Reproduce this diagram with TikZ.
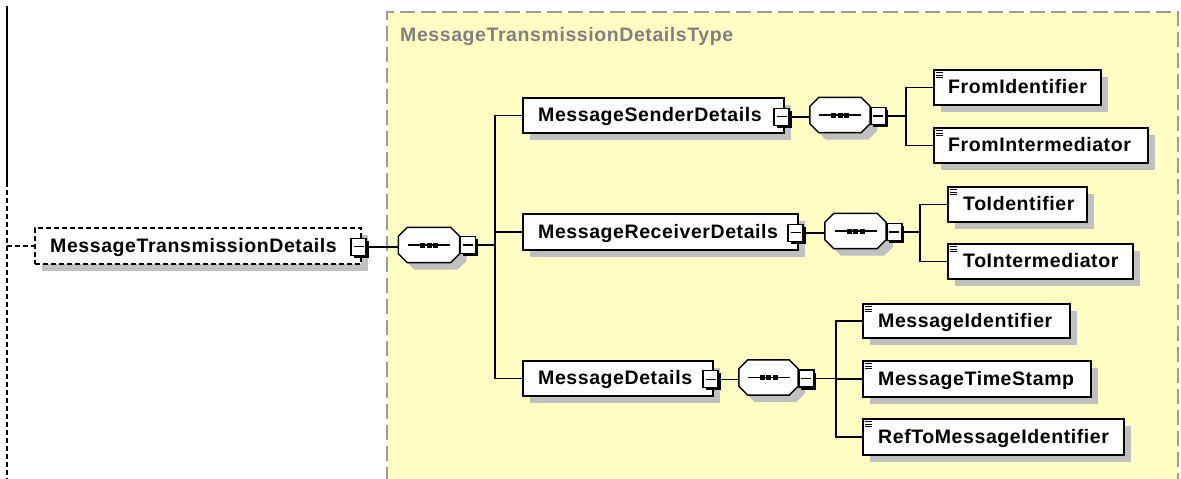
\documentclass[tikz,border=0pt]{standalone}
\usepackage{fontspec}
\setmainfont{Liberation Sans}[LetterSpace=3]
\usetikzlibrary{calc,shadows}
\definecolor{typebg}{RGB}{255,255,196}
\definecolor{typeborder}{RGB}{155,155,155}
\definecolor{shadowc}{RGB}{192,192,192}
\definecolor{titlec}{RGB}{128,128,128}
\tikzset{
  conn/.style={line width=1.5pt, draw=black},
  elem/.style={draw=black, line width=1.5pt, fill=white, inner sep=0pt, anchor=north west,
    drop shadow={shadow xshift=7pt, shadow yshift=-7pt, fill=shadowc, opacity=1}},
  optelem/.style={elem, dash pattern=on 5pt off 3pt},
  leaf/.style={elem, minimum height=35pt,
    path picture={\foreach \k in {3,5.5,8} \draw[line width=1.1pt] ($(path picture bounding box.north west)+(2.5,\k)$) -- +(7,0);}},
  lbl/.style={font=\fontsize{19.5}{22}\selectfont\bfseries, inner sep=0pt, anchor=base west},
  minusbox/.style={draw=black, line width=1.4pt, fill=white, minimum width=15pt, minimum height=17pt, inner sep=0pt,
    drop shadow={shadow xshift=2.5pt, shadow yshift=-2.5pt, fill=black, opacity=1}},
  minusbar/.style={line width=1.3pt, draw=black},
  seqnode/.style={minimum width=61pt, minimum height=35pt, inner sep=0pt, draw=none},
}
\newcommand\octpath[3]{($(#1.north west)+(#2,9+#3)$) -- ($(#1.north west)+(9+#2,#3)$) -- ($(#1.north east)+(-9+#2,#3)$) -- ($(#1.north east)+(#2,9+#3)$) -- ($(#1.south east)+(#2,-9+#3)$) -- ($(#1.south east)+(-9+#2,#3)$) -- ($(#1.south west)+(9+#2,#3)$) -- ($(#1.south west)+(#2,-9+#3)$) -- cycle}
\newcommand\drawseq[1]{%
  \fill[shadowc] \octpath{#1}{7}{7};
  \draw[line width=1.5pt, fill=white] \octpath{#1}{0}{0};
  \draw[line width=1.3pt] ($(#1.center)+(-21,0)$) -- ($(#1.center)+(21,0)$);
  \foreach \dx in {-6.5,0,6.5} \fill ($(#1.center)+(\dx-2.5,-2.5)$) rectangle ($(#1.center)+(\dx+2.5,2.5)$);
}
\begin{document}
\begin{tikzpicture}[x=1pt,y=-1pt]
\useasboundingbox (0,0) rectangle (1181,479);
\fill[white] (0,0) rectangle (1181,479);
% complex type area
\fill[typebg] (387,12) rectangle (1178,482);
\draw[typeborder, line width=2pt, dash pattern=on 15pt off 6pt] (387,482) -- (387,12) -- (1178,12) -- (1178,482);
\node[lbl, text=titlec] (title) at (400,41.5) {MessageTransmissionDetailsType};

% main element
\node[optelem, minimum width=326pt, minimum height=36pt] (main) at (34,227) {};
\node[lbl] (mainT) at ($(main.west)+(16,7)$) {MessageTransmissionDetails};
\coordinate (ltop) at (7,6);
\coordinate (lmid) at (7,182);
\coordinate (lbot) at (7,479);
\draw[conn] (ltop) -- (lmid);
\draw[conn, dash pattern=on 5pt off 3pt] (lmid) -- (lbot);
\draw[conn, dash pattern=on 5pt off 3pt] (main.west -| lmid) -- (main.west);

% sequence 1
\node[seqnode] (q1) at (429,245) {};
\drawseq{q1}
\node[minusbox] (mainm) at ($(main.east)+(-3,1)$) {};
\node[minusbox, anchor=west] (q1m) at (q1.east) {};
\draw[conn] (mainm.east) -- (mainm.east -| q1.west);

% level-1 elements
\node[elem, minimum width=261pt, minimum height=35pt] (snd) at (522,97) {};
\node[lbl] (sndT) at ($(snd.west)+(16,6.5)$) {MessageSenderDetails};
\node[elem, minimum width=275pt, minimum height=36pt] (rcv) at (522,213) {};
\node[lbl] (rcvT) at ($(rcv.west)+(16,6.5)$) {MessageReceiverDetails};
\node[elem, minimum width=190pt, minimum height=35pt] (det) at (522,360) {};
\node[lbl] (detT) at ($(det.west)+(16,6.5)$) {MessageDetails};

\coordinate (t1) at (495,245);
\draw[conn] (q1m.east) -- (q1m.east -| t1);
\draw[conn] (snd.west) -| (t1) |- (det.west);
\draw[conn] (rcv.west -| t1) -- (rcv.west);

\node[minusbox] (sndm) at ($(snd.east)+(-3,1.5)$) {};
\node[minusbox] (rcvm) at ($(rcv.east)+(-3,1)$) {};
\node[minusbox] (detm) at ($(det.east)+(-3,1)$) {};

% sequence 2 (sender)
\node[seqnode, minimum width=60pt] (q2) at (840,115) {};
\drawseq{q2}
\node[minusbox, anchor=west] (q2m) at ($(q2.east)+(0,1)$) {};
\draw[conn] (sndm.east) -- (sndm.east -| q2.west);
\node[leaf, minimum width=167pt] (fid) at (933,69) {};
\node[lbl] (fidT) at ($(fid.west)+(15,6.5)$) {FromIdentifier};
\node[leaf, minimum width=214pt] (fim) at (933,127) {};
\node[lbl] (fimT) at ($(fim.west)+(15,6.5)$) {FromIntermediator};
\coordinate (t2) at (906,115);
\draw[conn] (q2m.east) -- (q2m.east -| t2);
\draw[conn] (fid.west) -| (t2) |- (fim.west);

% sequence 3 (receiver)
\node[seqnode] (q3) at (855.5,231) {};
\drawseq{q3}
\node[minusbox, anchor=west] (q3m) at ($(q3.east)+(0,1)$) {};
\draw[conn] (rcvm.east) -- (rcvm.east -| q3.west);
\node[leaf, minimum width=139pt] (tid) at (947,186) {};
\node[lbl] (tidT) at ($(tid.west)+(16,6.5)$) {ToIdentifier};
\node[leaf, minimum width=185pt] (tim) at (947,243) {};
\node[lbl] (timT) at ($(tim.west)+(16,6.5)$) {ToIntermediator};
\coordinate (t3) at (920,231);
\draw[conn] (q3m.east) -- (q3m.east -| t3);
\draw[conn] (tid.west) -| (t3) |- (tim.west);

% sequence 4 (details)
\node[seqnode, minimum width=59pt] (q4) at (768.5,377.5) {};
\drawseq{q4}
\node[minusbox, anchor=west] (q4m) at ($(q4.east)+(0,1)$) {};
\draw[conn] (detm.east) -- (detm.east -| q4.west);
\node[leaf, minimum width=207pt, minimum height=34pt] (mid) at (862,303) {};
\node[lbl] (midT) at ($(mid.west)+(16,6.5)$) {MessageIdentifier};
\node[leaf, minimum width=228pt, minimum height=36pt] (mts) at (862,360) {};
\node[lbl] (mtsT) at ($(mts.west)+(16,6.5)$) {MessageTimeStamp};
\node[leaf, minimum width=261pt, minimum height=36pt] (ref) at (862,418) {};
\node[lbl] (refT) at ($(ref.west)+(16,6.5)$) {RefToMessageIdentifier};
\coordinate (t4) at (836,378);
\draw[conn] (q4m.east) -- (q4m.east -| t4);
\draw[conn] (mid.west) -| (t4) |- (ref.west);
\draw[conn] (mts.west -| t4) -- (mts.west);

% minus signs in the collapse boxes
\foreach \m in {mainm,q1m,sndm,rcvm,detm,q2m,q3m,q4m}
  \draw[minusbar] ($(\m.center)+(-5,0)$) -- ($(\m.center)+(5,0)$);
\end{tikzpicture}
\end{document}
